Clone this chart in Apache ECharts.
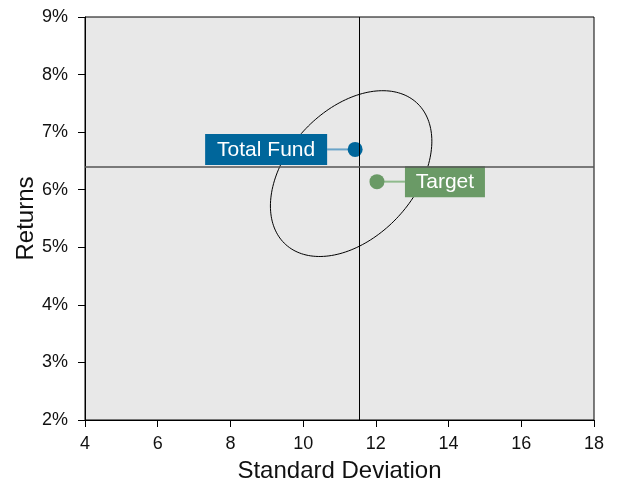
<!DOCTYPE html>
<html>
<head>
<meta charset="utf-8">
<script src="https://cdn.jsdelivr.net/npm/echarts@6/dist/echarts.min.js"></script>
<style>html,body{margin:0;padding:0;background:#fff;width:100%;height:100%;overflow:hidden;}#c{width:617px;height:481px;}</style>
</head>
<body>
<div id="c"></div>
<script>
// ---- data ----
var xTicks = [4, 6, 8, 10, 12, 14, 16, 18];
var yTicks = [2, 3, 4, 5, 6, 7, 8, 9];
var pointNames = ['Total Fund', 'Target'];
var pointStdDev = [11.43, 12.03];
var pointReturns = [6.70, 6.14];
var refStdDev = 11.55;     // vertical reference line
var refReturn = 6.40;      // horizontal reference line
var ellipseCenter = [11.32, 6.28];   // [std dev, return]
var ellipseRadii = [2.22, 1.44];     // half-extent in x and y
var ellipsePhaseDeg = [67];          // phase offset controlling tilt

var FONT = 'Liberation Sans, Arial, Helvetica, sans-serif';
var chart = echarts.init(document.getElementById('c'), null, {renderer: 'canvas', width: 617, height: 481});

var pointStyles = [
  {box: '#00669b', line: '#6aa4c9', side: 'left', w: 122},
  {box: '#6a9a66', line: '#8fba8c', side: 'right', w: 80}
];

var option = {
  animation: false,
  backgroundColor: '#ffffff',
  grid: {
    left: 85, right: 23, top: 17, bottom: 61,
    containLabel: false, outerBoundsMode: 'none',
    show: true, backgroundColor: '#e8e8e8', borderColor: '#000', borderWidth: 1
  },
  xAxis: {
    type: 'value', min: xTicks[0], max: xTicks[xTicks.length - 1], interval: 2,
    name: 'Standard Deviation', nameLocation: 'middle', nameGap: 39, nameMoveOverlap: false,
    nameTextStyle: {fontFamily: FONT, fontSize: 24, color: '#111'},
    axisLine: {show: true, lineStyle: {color: '#000', width: 1}},
    axisTick: {show: true, length: 7, lineStyle: {color: '#000'}},
    axisLabel: {fontFamily: FONT, fontSize: 18, color: '#111', margin: 15},
    splitLine: {show: false}
  },
  yAxis: {
    type: 'value', min: yTicks[0], max: yTicks[yTicks.length - 1], interval: 1,
    name: 'Returns', nameLocation: 'middle', nameGap: 47, nameMoveOverlap: false,
    nameTextStyle: {fontFamily: FONT, fontSize: 24, color: '#111'},
    axisLine: {show: true, lineStyle: {color: '#000', width: 1}},
    axisTick: {show: true, length: 7, lineStyle: {color: '#000'}},
    axisLabel: {fontFamily: FONT, fontSize: 18, color: '#111', margin: 17, formatter: '{value}%'},
    splitLine: {show: false}
  },
  series: [
    {
      type: 'custom',
      z: 2,
      silent: true,
      data: [[ellipseCenter[0], ellipseCenter[1], ellipseRadii[0], ellipseRadii[1], ellipsePhaseDeg[0]]],
      renderItem: function (params, api) {
        var cx = api.value(0), cy = api.value(1), rx = api.value(2), ry = api.value(3);
        var ph = api.value(4) * Math.PI / 180;
        var pts = [];
        for (var i = 0; i <= 180; i++) {
          var t = i / 180 * 2 * Math.PI;
          pts.push(api.coord([cx + rx * Math.cos(t), cy + ry * Math.cos(t - ph)]));
        }
        return {type: 'polyline', shape: {points: pts}, style: {stroke: '#000', lineWidth: 1, fill: null}};
      }
    },
    {
      type: 'scatter',
      z: 3,
      silent: true,
      symbolSize: 0,
      data: [],
      markLine: {
        silent: true,
        symbol: ['none', 'none'],
        label: {show: false},
        animation: false,
        data: [
          {xAxis: refStdDev, lineStyle: {color: '#000', width: 1, type: 'solid'}},
          {yAxis: refReturn, lineStyle: {color: '#555', width: 1.5, type: 'solid'}}
        ]
      }
    },
    {
      type: 'custom',
      z: 4,
      silent: true,
      data: pointNames.map(function (n, i) { return [pointStdDev[i], pointReturns[i], i]; }),
      renderItem: function (params, api) {
        var p = api.coord([api.value(0), api.value(1)]);
        var idx = api.value(2);
        var st = pointStyles[idx];
        var gap = 28, h = 31;
        var boxX = st.side === 'left' ? p[0] - gap - st.w : p[0] + gap;
        var lineEnd = st.side === 'left' ? p[0] - gap : p[0] + gap;
        return {
          type: 'group',
          children: [
            {type: 'line', shape: {x1: p[0], y1: p[1], x2: lineEnd, y2: p[1]}, style: {stroke: st.line, lineWidth: 2}},
            {type: 'rect', shape: {x: boxX, y: p[1] - h / 2, width: st.w, height: h}, style: {fill: st.box}},
            {type: 'text', style: {text: pointNames[idx], x: boxX + st.w / 2, y: p[1] + 1, align: 'center', verticalAlign: 'middle', fill: '#fff', font: '21px ' + FONT}},
            {type: 'circle', shape: {cx: p[0], cy: p[1], r: 7.5}, style: {fill: st.box}}
          ]
        };
      }
    }
  ]
};
chart.setOption(option);
</script>
</body>
</html>
